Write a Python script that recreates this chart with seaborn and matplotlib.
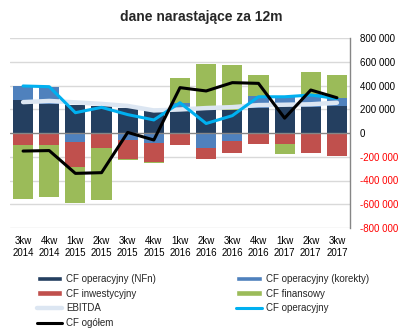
import numpy as np
import matplotlib
matplotlib.use("Agg")
import matplotlib.pyplot as plt
from matplotlib.patches import Patch
from matplotlib.lines import Line2D
import seaborn as sns

# ---- data (values in PLN thousands -> scaled below) ----
categories = ["3kw\n2014", "4kw\n2014", "1kw\n2015", "2kw\n2015", "3kw\n2015", "4kw\n2015",
              "1kw\n2016", "2kw\n2016", "3kw\n2016", "4kw\n2016", "1kw\n2017", "2kw\n2017", "3kw\n2017"]
cf_op_nfn = [278, 244, 236, 225, 210, 194, 200, 208, 194, 213, 227, 216, 227]
cf_op_korekty = [118, 146, -73, -5, -59, -82, 55, -129, -65, 99, 85, 112, 70]
cf_inwest = [-101, -101, -213, -119, -160, -162, -98, -90, -101, -93, -93, -166, -191]
cf_finans = [-455, -435, -300, -438, -7, -6, 211, 376, 381, 176, -84, 186, 191]
ebitda = [260, 270, 258, 245, 228, 190, 198, 210, 218, 235, 238, 242, 255]
cf_operacyjny = [396, 390, 171, 216, 155, 110, 255, 80, 146, 305, 305, 320, 290]
cf_ogolem = [-152, -148, -340, -334, 5, -59, 382, 354, 424, 418, 125, 362, 297]
yticks = [-800000, -600000, -400000, -200000, 0, 200000, 400000, 600000, 800000]
title = "dane narastające za 12m"

SCALE = 1000
C_NFN = "#243F60"
C_KOR = "#4F81BD"
C_INW = "#C0504D"
C_FIN = "#9BBB59"
C_EBITDA = "#DCE6F2"
C_CFOP = "#00B0F0"
C_TOT = "#000000"

sns.set_style("white")
plt.rcParams["font.family"] = ["Liberation Sans", "DejaVu Sans"]

fig = plt.figure(figsize=(4.03, 3.29), dpi=100)
ax = fig.add_axes([10 / 403, 1 - 228 / 329, 340 / 403, 190 / 329])

nfn = np.array(cf_op_nfn, float) * SCALE
kor = np.array(cf_op_korekty, float) * SCALE
inw = np.array(cf_inwest, float) * SCALE
fin = np.array(cf_finans, float) * SCALE

# positive stack: nfn, korekty(+), finansowy(+)
p1 = np.clip(nfn, 0, None)
p2 = p1 + np.clip(kor, 0, None)
p3 = p2 + np.clip(fin, 0, None)
# negative stack: korekty(-), inwestycyjny(-), finansowy(-)
n1 = np.clip(kor, None, 0)
n2 = n1 + np.clip(inw, None, 0)
n3 = n2 + np.clip(fin, None, 0)

bw = 0.77
for vals, col in [(p3, C_FIN), (p2, C_KOR), (p1, C_NFN), (n3, C_FIN), (n2, C_INW), (n1, C_KOR)]:
    sns.barplot(x=categories, y=vals, color=col, saturation=1, width=bw,
                errorbar=None, linewidth=0, edgecolor="none", ax=ax, zorder=2)

ax.axhline(0, color="#868686", linewidth=1, zorder=3)

xs = np.arange(len(categories))
sns.lineplot(x=xs, y=np.array(ebitda) * SCALE, color=C_EBITDA, linewidth=3.2, sort=False, ax=ax, zorder=4)
sns.lineplot(x=xs, y=np.array(cf_operacyjny) * SCALE, color=C_CFOP, linewidth=2.2, sort=False, ax=ax, zorder=5)
sns.lineplot(x=xs, y=np.array(cf_ogolem) * SCALE, color=C_TOT, linewidth=2.2, sort=False, ax=ax, zorder=6)

ax.set_xlim(-0.5, len(categories) - 0.5)
ax.set_ylim(-800000, 800000)
ax.set_xlabel("")
ax.set_ylabel("")

# grid
for y in yticks:
    if y != 0:
        ax.axhline(y, color="#D9D9D9", linewidth=1, zorder=0)

for s in ["top", "left", "bottom"]:
    ax.spines[s].set_visible(False)
ax.spines["right"].set_color("#868686")
ax.spines["right"].set_linewidth(1)

ax.yaxis.tick_right()
ax.set_yticks(yticks)
ax.set_yticklabels([("0" if v == 0 else f"{v:,}".replace(",", " ")) for v in yticks], fontsize=7)
for lab, v in zip(ax.get_yticklabels(), yticks):
    lab.set_color("#FF0000" if v < 0 else "#000000")
ax.tick_params(axis="y", length=0, pad=7)

ax.set_xticks(xs)
ax.set_xticklabels(categories, fontsize=7, color="#000000", linespacing=1.25)
ax.tick_params(axis="x", length=0, pad=6)

fig.text(201 / 403, 1 - 17 / 329, title, ha="center", va="center", fontsize=10, fontweight="bold")

h_nfn = Patch(facecolor=C_NFN, label="CF operacyjny (NFn)")
h_kor = Patch(facecolor=C_KOR, label="CF operacyjny (korekty)")
h_inw = Patch(facecolor=C_INW, label="CF inwestycyjny")
h_fin = Patch(facecolor=C_FIN, label="CF finansowy")
h_eb = Line2D([], [], color=C_EBITDA, linewidth=3.2, label="EBITDA")
h_op = Line2D([], [], color=C_CFOP, linewidth=2.2, label="CF operacyjny")
h_tot = Line2D([], [], color=C_TOT, linewidth=2.2, label="CF ogółem")
handles = [h_nfn, h_inw, h_eb, h_tot, h_kor, h_fin, h_op]
fig.legend(handles=handles, ncol=2, loc="upper left", bbox_to_anchor=(28 / 403, 1 - 265 / 329),
           frameon=False, fontsize=7, handlelength=2.6, handleheight=0.5, handletextpad=0.4,
           columnspacing=8.3, labelspacing=0.5)

fig.savefig("out.png", dpi=100)
